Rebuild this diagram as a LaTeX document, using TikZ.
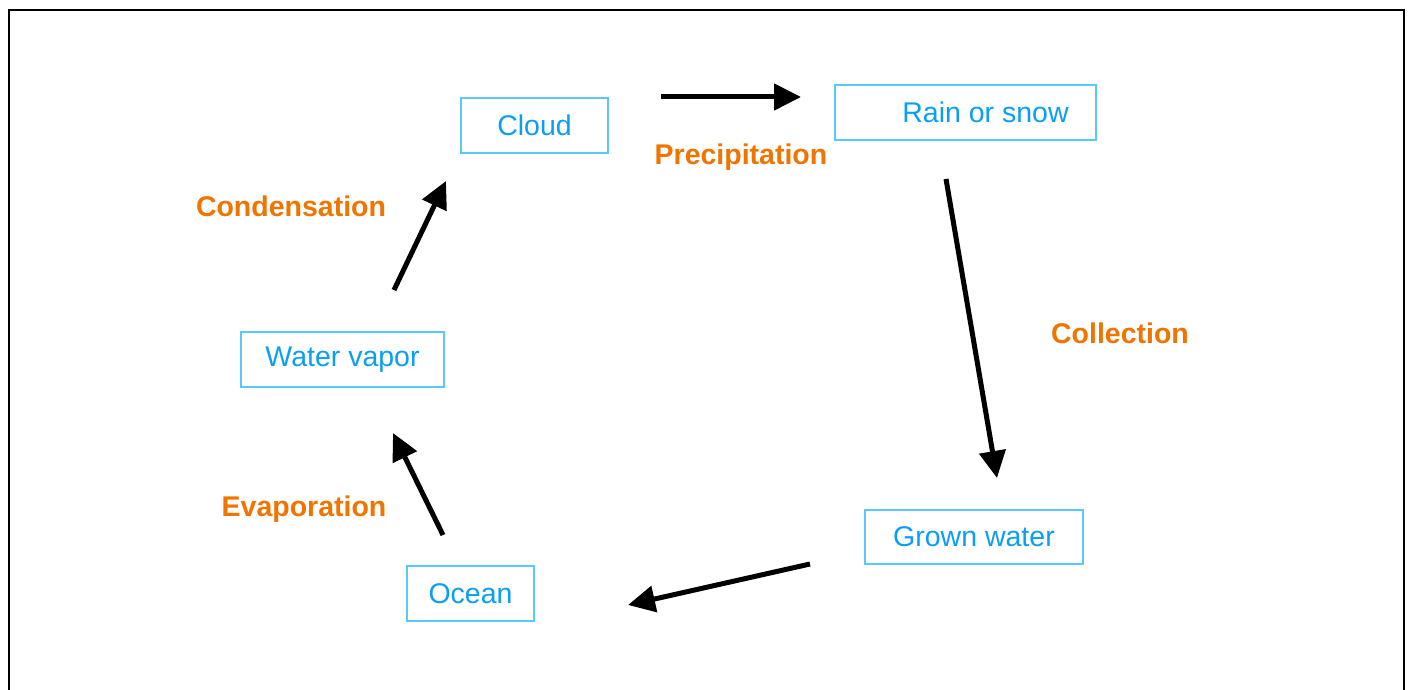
\documentclass[tikz,border=0pt]{standalone}
\usepackage{fontspec}
\setmainfont{Liberation Sans}
\usetikzlibrary{arrows.meta}
\definecolor{boxline}{HTML}{5AC8FA}
\definecolor{boxtext}{HTML}{0A9EF5}
\definecolor{lblorange}{HTML}{F07400}
\begin{document}
\begin{tikzpicture}[x=1pt,y=1pt,
  stepbox/.style={draw=boxline, line width=2.8pt, text=boxtext, inner sep=0pt,
    font=\fontsize{28.5}{34}\selectfont, anchor=center},
  lbl/.style={text=lblorange, font=\fontsize{28.5}{34}\selectfont\bfseries, inner sep=0pt, anchor=center},
  flow/.style={line width=5pt, -{Triangle[length=27pt,width=26pt]}}
]
\useasboundingbox (0,0) rectangle (1408,690);
% frame
\draw[line width=2.5pt, black] (9,-5) -- (9,680) -- (1404,680) -- (1404,-5);

% boxes
\node[stepbox, minimum width=147pt, minimum height=55pt] (cloud) at (534.5,564.5) {Cloud};
\node[stepbox, minimum width=261pt, minimum height=55pt] (rain) at (965.5,577.5) {\hspace*{40pt}Rain or snow};
\node[stepbox, minimum width=203pt, minimum height=55pt] (vapor) at (342.5,330.5) {Water vapor};
\node[stepbox, minimum width=127pt, minimum height=55pt] (ocean) at (470.5,96.5) {Ocean};
\node[stepbox, minimum width=218pt, minimum height=54pt] (grown) at (974,153) {Grown water};

% labels
\node[lbl] (lcond) at (291,484) {Condensation};
\node[lbl] (lprec) at (741,533) {Precipitation};
\node[lbl] (lcoll) at (1120,357) {Collection};
\node[lbl] (levap) at (304,181) {Evaporation};

% arrow end points
\coordinate (p1s) at (661,593);
\coordinate (p1e) at (801,593);
\coordinate (p2s) at (946,511);
\coordinate (p2e) at (997,212);
\coordinate (p3s) at (810,126);
\coordinate (p3e) at (628,85);
\coordinate (p4s) at (443,155);
\coordinate (p4e) at (393,257);
\coordinate (p5s) at (394,400);
\coordinate (p5e) at (446,509);

\draw[flow] (p1s) -- (p1e);
\draw[flow] (p2s) -- (p2e);
\draw[flow] (p3s) -- (p3e);
\draw[flow] (p4s) -- (p4e);
\draw[flow] (p5s) -- (p5e);
\end{tikzpicture}
\end{document}
